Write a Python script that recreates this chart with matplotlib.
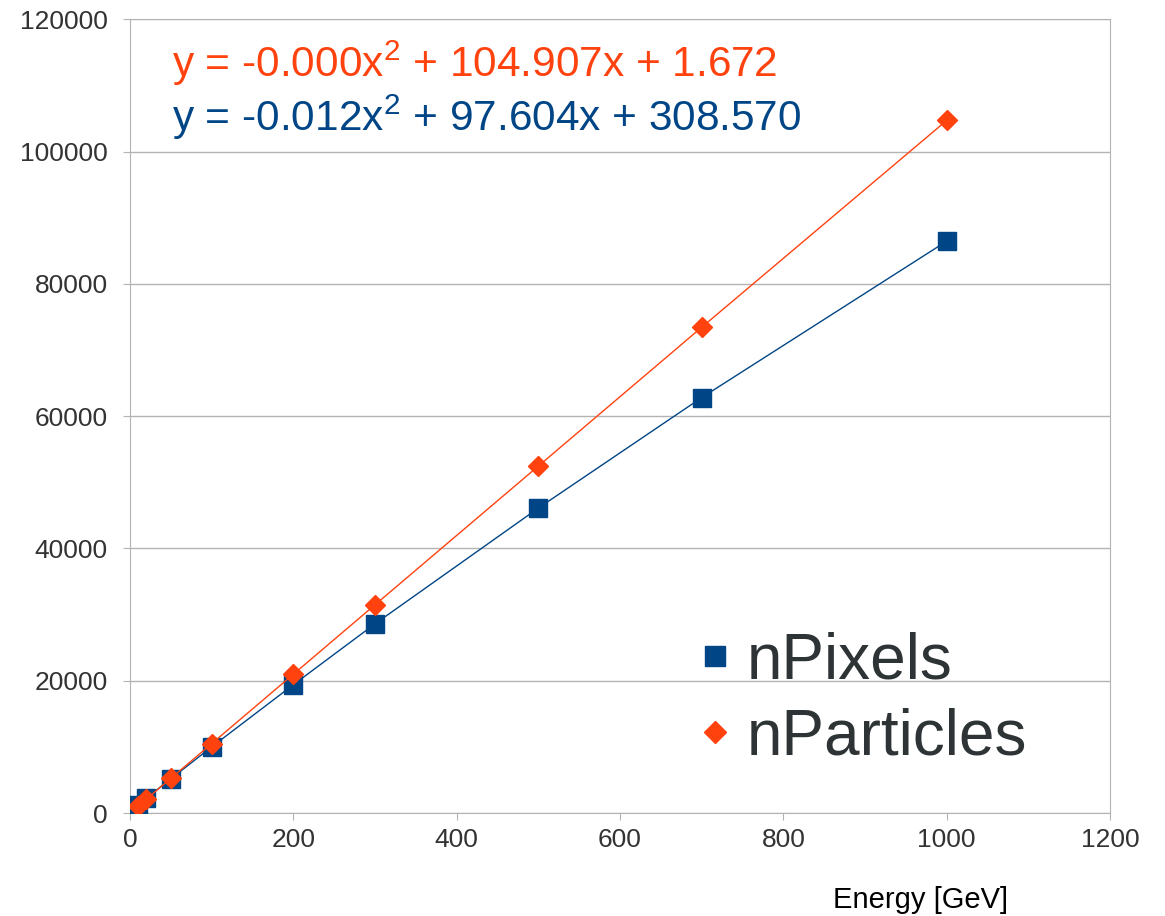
import matplotlib
matplotlib.use('Agg')
import matplotlib.pyplot as plt
from matplotlib.lines import Line2D

plt.rcParams['font.family'] = ['Liberation Sans', 'DejaVu Sans']
plt.rcParams['mathtext.fontset'] = 'custom'
plt.rcParams['mathtext.rm'] = 'Liberation Sans'
plt.rcParams['mathtext.it'] = 'Liberation Sans'

# Energy points and the two series
energy = [10, 20, 50, 100, 200, 300, 500, 700, 1000]
n_pixels = [1290, 2250, 5180, 10000, 19400, 28600, 46100, 62800, 86450]
n_particles = [1050, 2100, 5250, 10490, 20980, 31480, 52450, 73430, 104700]

fit_particles = "y = -0.000x$^{2}$ + 104.907x + 1.672"
fit_pixels = "y = -0.012x$^{2}$ + 97.604x + 308.570"

BLUE = '#004586'
ORANGE = '#FF420E'
GRID = '#b3b3b3'
TXT = '#333333'

fig = plt.figure(figsize=(11.65, 9.16), dpi=100)
ax = fig.add_axes([0.1116, 0.1124, 0.8412, 0.8666])

ax.plot(energy, n_pixels, color=BLUE, linewidth=1, marker='s', markersize=13,
        zorder=3)
ax.plot(energy, n_particles, color=ORANGE, linewidth=1, marker='D', markersize=10,
        zorder=4)

ax.set_xlim(0, 1200)
ax.set_ylim(0, 120000)
ax.set_xticks(range(0, 1201, 200))
ax.set_yticks(range(0, 120001, 20000))
ax.tick_params(labelsize=19, labelcolor=TXT, length=5, color=GRID)
ax.tick_params(axis='x', pad=6)
ax.tick_params(axis='y', pad=11)
ax.yaxis.grid(True, color=GRID, linewidth=1)
ax.set_axisbelow(True)
for s in ax.spines.values():
    s.set_color(GRID)

ax.text(0.043, 0.945, fit_particles, transform=ax.transAxes, color=ORANGE,
        fontsize=30.5, va='center')
ax.text(0.043, 0.877, fit_pixels, transform=ax.transAxes, color=BLUE,
        fontsize=30.5, va='center')

handles = [Line2D([], [], color=BLUE, marker='s', linestyle='none', markersize=14),
           Line2D([], [], color=ORANGE, marker='D', linestyle='none', markersize=11)]
leg = ax.legend(handles, ['nPixels', 'nParticles'], loc='center left',
                bbox_to_anchor=(0.519, 0.143), fontsize=46, frameon=False,
                handlelength=0.6, handletextpad=0.2, labelspacing=0.24,
                borderpad=0.4)
for t in leg.get_texts():
    t.set_color('#2e3436')

fig.text(0.79, 0.0175, 'Energy [GeV]', fontsize=21, ha='center', va='center')

fig.savefig('out.png', dpi=100)
